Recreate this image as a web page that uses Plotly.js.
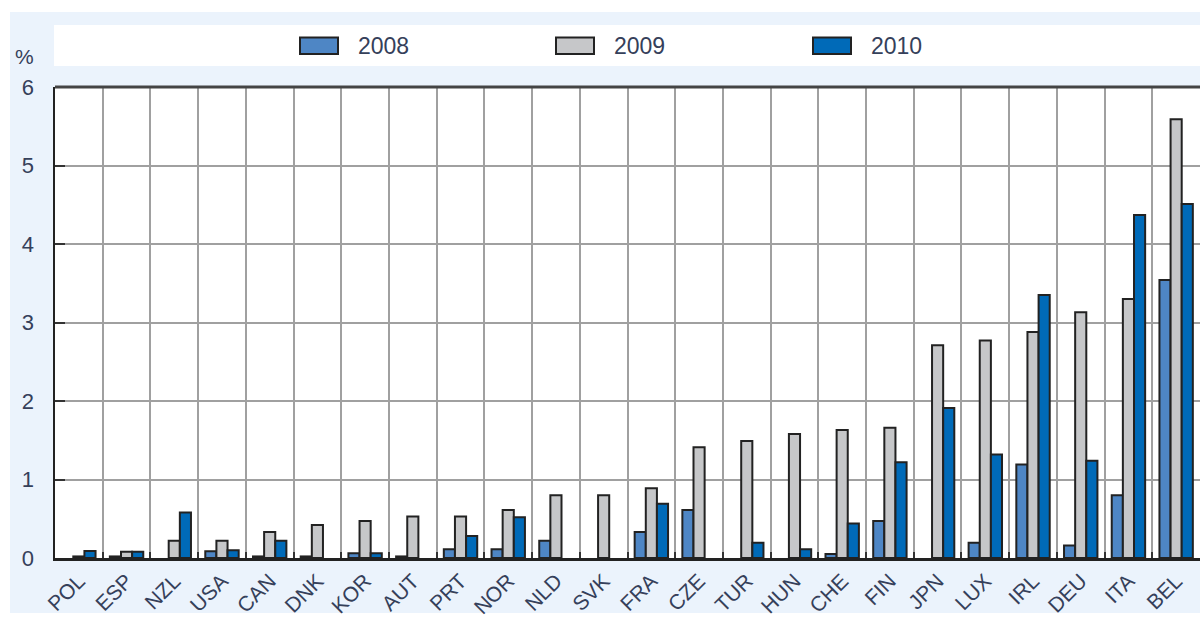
<!DOCTYPE html>
<html>
<head>
<meta charset="utf-8">
<script src="https://cdn.plot.ly/plotly-3.0.1.min.js"></script>
<style>html,body{margin:0;padding:0;background:#fff;}#chart{width:1200px;height:623px;}</style>
</head>
<body>
<div id="chart"></div>
<script>
const categories = ['POL','ESP','NZL','USA','CAN','DNK','KOR','AUT','PRT','NOR','NLD','SVK','FRA','CZE','TUR','HUN','CHE','FIN','JPN','LUX','IRL','DEU','ITA','BEL'];
const seriesNames = ['2008','2009','2010'];
const v2008 = [null,0.02,null,0.085,0.02,0.02,0.06,0.02,0.11,0.11,0.22,null,0.33,0.61,null,null,0.05,0.47,null,0.195,1.19,0.16,0.80,3.54];
const v2009 = [0.02,0.08,0.22,0.22,0.33,0.42,0.47,0.53,0.53,0.61,0.80,0.80,0.89,1.41,1.49,1.58,1.63,1.66,2.71,2.77,2.88,3.13,3.30,5.59];
const v2010 = [0.09,0.08,0.58,0.10,0.22,null,0.06,null,0.28,0.52,null,null,0.69,null,0.195,0.11,0.44,1.22,1.91,1.32,3.35,1.24,4.37,4.51];
const yTicks = [0,1,2,3,4,5,6];
const yUnit = '%';

const colors = ['#4E86C5','#C6C7C9','#006AB8'];
const FONT = '"Liberation Sans Narrow","Liberation Sans",Arial,sans-serif';
const TXT = '#35405a';

// pixel -> paper helpers (plot area: x 55..1200, y 87..558)
const L = 55, R = 0, T = 87, B = 65, W = 1200 - L - R, H = 623 - T - B;
const px = p => (p - L) / W;
const py = p => (623 - B - p) / H;

const seriesVals = [v2008, v2009, v2010];
const traces = seriesVals.map((vals, i) => ({
  type: 'bar',
  name: seriesNames[i],
  x: categories,
  y: vals,
  marker: {color: colors[i], line: {color: '#222222', width: 2}},
  showlegend: false,
  hoverinfo: 'x+y+name'
}));

const shapes = [
  {type:'rect', xref:'paper', yref:'paper', x0:px(0), x1:px(1200), y0:py(12), y1:py(0), fillcolor:'#ffffff', line:{width:0}, layer:'below'},
  {type:'rect', xref:'paper', yref:'paper', x0:px(0), x1:px(10), y0:py(623), y1:py(0), fillcolor:'#ffffff', line:{width:0}, layer:'below'},
  {type:'rect', xref:'paper', yref:'paper', x0:px(0), x1:px(1200), y0:py(623), y1:py(613), fillcolor:'#ffffff', line:{width:0}, layer:'below'},
  {type:'rect', xref:'paper', yref:'paper', x0:px(54), x1:px(1200), y0:py(66), y1:py(25), fillcolor:'#ffffff', line:{width:0}, layer:'below'},
  {type:'line', xref:'paper', yref:'paper', x0:0, x1:1, y0:1, y1:1, line:{color:'#444444', width:3}}
];
const annotations = [
  {xref:'paper', yref:'paper', x:px(24), y:py(56), text:yUnit, showarrow:false, xanchor:'center', yanchor:'middle', font:{family:FONT, size:21, color:TXT}}
];
const legX = [300, 556, 813];
seriesNames.forEach((n, i) => {
  shapes.push({type:'rect', xref:'paper', yref:'paper', x0:px(legX[i]), x1:px(legX[i]+38), y0:py(54), y1:py(37.5), fillcolor:colors[i], line:{color:'#222222', width:2}});
  annotations.push({xref:'paper', yref:'paper', x:px(legX[i]+56), y:py(46), text:n, showarrow:false, xanchor:'left', yanchor:'middle', font:{family:FONT, size:23, color:TXT}});
});

const layout = {
  width: 1200, height: 623,
  margin: {l: L, r: R, t: T, b: B, pad: 0},
  paper_bgcolor: '#EBF3FC',
  plot_bgcolor: '#ffffff',
  barmode: 'group',
  bargap: 0.3,
  bargroupgap: 0,
  showlegend: false,
  xaxis: {
    type: 'category',
    tickson: 'boundaries',
    ticks: 'inside', ticklen: 6, tickwidth: 2, tickcolor: '#333',
    showgrid: true, gridcolor: '#A0A0A0', gridwidth: 2,
    showline: true, linecolor: '#222', linewidth: 2.5,
    tickangle: -45,
    tickfont: {family: FONT, size: 21, color: TXT},
    range: [-0.5, categories.length - 0.5],
    fixedrange: true
  },
  yaxis: {
    range: [0, 6],
    tickvals: yTicks,
    ticktext: yTicks.map(String),
    ticks: 'inside', ticklen: 10, tickwidth: 2, tickcolor: '#333',
    showgrid: true, gridcolor: '#A0A0A0', gridwidth: 2,
    showline: true, linecolor: '#222', linewidth: 2.5,
    zeroline: false,
    ticklabelstandoff: 14,
    tickfont: {family: FONT, size: 22, color: TXT},
    fixedrange: true
  },
  shapes: shapes,
  annotations: annotations
};

Plotly.newPlot('chart', traces, layout, {displayModeBar: false, staticPlot: true});
</script>
</body>
</html>
